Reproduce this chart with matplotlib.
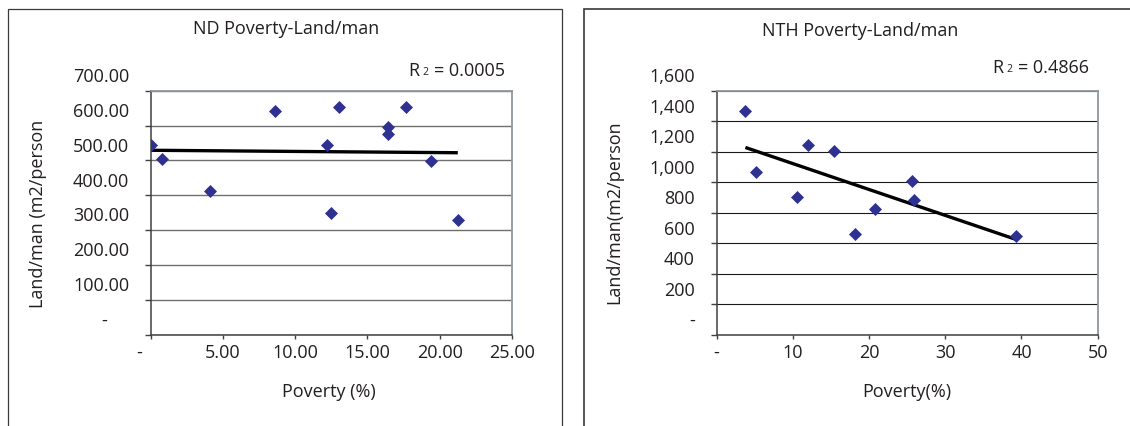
import matplotlib.pyplot as plt
import numpy as np
from matplotlib.patches import Rectangle
from matplotlib.transforms import ScaledTranslation

plt.rcParams['font.family'] = ['Open Sans', 'DejaVu Sans']

# ND chart
nd_poverty = [0.0, 0.75, 4.07, 8.6, 12.17, 12.5, 13.0, 16.4, 16.4, 17.65, 19.4, 21.25]
nd_land = [545, 503, 411, 642, 545, 350, 653, 597, 575, 653, 498, 330]
nd_xticks = [0, 5, 10, 15, 20, 25]
nd_xlabels = ['-', '5.00', '10.00', '15.00', '20.00', '25.00']
nd_yticks = [0, 100, 200, 300, 400, 500, 600, 700]
nd_ylabels = ['-', '100.00', '200.00', '300.00', '400.00', '500.00', '600.00', '700.00']
nd_r2 = '0.0005'

# NTH chart
nth_poverty = [3.79, 5.2, 10.58, 11.98, 15.36, 18.16, 20.74, 25.7, 25.94, 39.33]
nth_land = [1469, 1069, 905, 1246, 1207, 658, 822, 1010, 885, 647]
nth_xticks = [0, 10, 20, 30, 40, 50]
nth_xlabels = ['-', '10', '20', '30', '40', '50']
nth_yticks = [0, 200, 400, 600, 800, 1000, 1200, 1400, 1600]
nth_ylabels = ['-', '200', '400', '600', '800', '1,000', '1,200', '1,400', '1,600']
nth_r2 = '0.4866'

W, H = 1130, 427
FS = 13
MARKER = '#2e3192'
TXT = '#231f20'


def fx(px):
    return px / W


def fy(py):
    return 1 - py / H


def draw_panel(fig, box, x, y, xticks, xlabels, yticks, ylabels, grid_color, grid_lw,
               title, tpos, xlab, xpos, ylab, ypos, r2, rpos, dash_shift):
    left, right, top, bottom = box
    ax = fig.add_axes([fx(left), fy(bottom), fx(right - left), (bottom - top) / H])
    ax.scatter(x, y, marker='D', s=44, color=MARKER, zorder=3, linewidths=0)
    k, b = np.polyfit(x, y, 1)
    xs = np.array([min(x), max(x)])
    ax.plot(xs, k * xs + b, color='black', lw=2.4, zorder=2, solid_capstyle='butt')

    ax.set_xlim(xticks[0], xticks[-1])
    ax.set_ylim(yticks[0], yticks[-1])
    ax.set_xticks(xticks)
    ax.set_xticklabels(xlabels, fontsize=FS, color=TXT)
    ax.set_yticks(yticks)
    ax.set_yticklabels(ylabels, fontsize=FS, color=TXT)
    ax.tick_params(axis='y', length=4, width=1, color='#404040', pad=11.5)
    ax.tick_params(axis='x', length=3, width=1, color='#404040', pad=3)
    ax.yaxis.grid(True, color=grid_color, lw=grid_lw)
    ax.set_axisbelow(True)
    for s in ['left', 'bottom']:
        ax.spines[s].set_color('#404040')
        ax.spines[s].set_linewidth(1.1)
    for s in ['top', 'right']:
        ax.spines[s].set_color('#8f96a0')
        ax.spines[s].set_linewidth(1.3)

    # y labels sit half a step above their gridlines, as in the source
    up = ScaledTranslation(0, 12 / 72, fig.dpi_scale_trans)
    for lab in ax.get_yticklabels():
        lab.set_transform(lab.get_transform() + up)
    ydash, xdash = dash_shift
    lab = ax.get_yticklabels()[0]
    lab.set_transform(lab.get_transform() + ScaledTranslation(-ydash / 100, 0, fig.dpi_scale_trans))
    lab = ax.get_xticklabels()[0]
    lab.set_transform(lab.get_transform() + ScaledTranslation(-xdash / 100, 0, fig.dpi_scale_trans))

    fig.text(fx(tpos[0]), fy(tpos[1]), title, fontsize=FS, ha='center', va='center', color=TXT)
    fig.text(fx(xpos[0]), fy(xpos[1]), xlab, fontsize=FS, ha='center', va='center', color=TXT)
    fig.text(fx(ypos[0]), fy(ypos[1]), ylab, fontsize=FS, ha='center', va='center',
             rotation=90, color=TXT)
    rx, ry = rpos
    fig.text(fx(rx), fy(ry), 'R', fontsize=FS, ha='left', va='baseline', color=TXT)
    fig.text(fx(rx + 14.5), fy(ry - 1), '2', fontsize=7.5, ha='left', va='baseline', color=TXT)
    fig.text(fx(rx + 25.5), fy(ry), '= ' + r2, fontsize=FS, ha='left', va='baseline', color=TXT)
    return ax


fig = plt.figure(figsize=(W / 100, H / 100), dpi=100)

# chart frames
fig.patches.append(Rectangle((fx(8), fy(440)), fx(562 - 8), (440 - 10) / H, fill=False,
                             edgecolor='#3a3a3a', lw=0.9, transform=fig.transFigure))
fig.patches.append(Rectangle((fx(584), fy(440)), fx(1140 - 584), (440 - 9.5) / H, fill=False,
                             edgecolor='#3a3a3a', lw=1.2, transform=fig.transFigure))

draw_panel(fig, (150.7, 512, 91.7, 335.7), nd_poverty, nd_land, nd_xticks, nd_xlabels,
           nd_yticks, nd_ylabels, '#6f6f6f', 1.0,
           'ND Poverty-Land/man', (286, 29), 'Poverty (%)', (328.6, 392),
           'Land/man (m2/person', (38, 214), nd_r2, (408.3, 75.7), (22.5, 11.5))

draw_panel(fig, (716.5, 1097.7, 91.7, 335.7), nth_poverty, nth_land, nth_xticks, nth_xlabels,
           nth_yticks, nth_ylabels, '#1a1a1a', 0.8,
           'NTH Poverty-Land/man', (860, 31), 'Poverty(%)', (907, 392),
           'Land/man(m2/person', (614.6, 212), nth_r2, (992, 72.7), (0, 0))

fig.savefig('out.png', dpi=100)
